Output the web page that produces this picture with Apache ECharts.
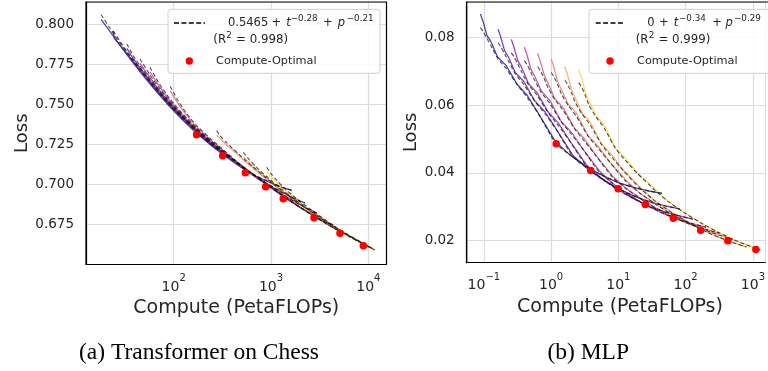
<!DOCTYPE html>
<html><head><meta charset="utf-8">
<script src="https://cdn.jsdelivr.net/npm/echarts@6/dist/echarts.min.js"></script>
<style>html,body{margin:0;padding:0;background:#fff;}#c{width:768px;height:371px;}</style>
</head><body><div id="c"></div>
<script>
// ---------------- (a) Transformer on Chess ----------------
const chessCompute = [
  [18, 24, 33, 45, 57, 70, 85, 100, 126, 172, 250, 319, 400, 545, 700, 883, 1100, 1336, 1633],
  [24, 24.6, 33, 45, 57, 70, 85, 100, 126, 172, 250, 319, 400, 545, 700, 883, 1100, 1336, 1633, 2000, 2234],
  [33, 38.5, 45, 57, 70, 85, 100, 126, 172, 250, 319, 400, 545, 700, 883, 1100, 1336, 1633, 2000, 2400, 2951],
  [45, 57, 70, 85, 100, 126, 172, 250, 319, 400, 545, 700, 883, 1100, 1336, 1633, 2000, 2767, 3500, 4365],
  [57, 70, 85, 100, 126, 172, 250, 319, 400, 545, 700, 883, 1100, 1336, 1633, 2000, 2767, 3500, 4365, 5400],
  [92, 110, 126, 150, 172, 250, 319, 400, 545, 700, 883, 1100, 1336, 1633, 2000, 2767, 3500, 4365, 5117, 6500, 8700],
  [277, 300, 350, 400, 470, 545, 700, 883, 1100, 1336, 1633, 2000, 2767, 3500, 4365, 5117, 6500, 8894, 11000],
  [519, 600, 700, 883, 1100, 1336, 1633, 2000, 2767, 3500, 4365, 5117, 6500, 8894, 11500],
  [904, 1000, 1150, 1336, 1633, 2000, 2767, 3500, 4365, 5117, 6500, 8894, 11730]
];
const chessLoss = [
  [.8030, .7926, .7811, .7705, .7629, .7564, .7506, .7460, .7398, .7319, .7237, .7188, .7145, .7088, .7051, .7024, .6999, .6979, .6964],
  [.7960, .7911, .7819, .7715, .7639, .7574, .7516, .7470, .7408, .7329, .7245, .7196, .7153, .7091, .7046, .7008, .6974, .6946, .6920, .6896, .6885],
  [.7850, .7786, .7729, .7649, .7582, .7523, .7476, .7413, .7333, .7250, .7200, .7157, .7095, .7048, .7006, .6967, .6934, .6903, .6873, .6848, .6823],
  [.7756, .7667, .7594, .7531, .7482, .7418, .7337, .7253, .7203, .7153, .7091, .7043, .7001, .6960, .6925, .6891, .6857, .6806, .6772, .6746],
  [.7704, .7619, .7548, .7495, .7428, .7345, .7259, .7208, .7157, .7094, .7046, .7003, .6962, .6926, .6891, .6856, .6803, .6766, .6732, .6705],
  [.7585, .7510, .7458, .7400, .7359, .7267, .7213, .7161, .7096, .7047, .7003, .6962, .6926, .6891, .6856, .6803, .6766, .6731, .6708, .6673, .6634],
  [.7308, .7286, .7248, .7217, .7179, .7143, .7087, .7037, .6990, .6950, .6911, .6873, .6815, .6775, .6737, .6711, .6675, .6629, .6600],
  [.7173, .7136, .7098, .7044, .6995, .6953, .6913, .6874, .6816, .6775, .6737, .6711, .6675, .6629, .6592],
  [.7079, .7049, .7012, .6973, .6927, .6884, .6821, .6778, .6739, .6712, .6675, .6629, .6589]
];
const chessFit = [
  [.8060, .7944, .7824, .7715, .7638, .7572, .7514, .7467, .7405, .7325, .7243, .7193, .7150, .7093, .7055, .7026, .7000, .6979, .6962],
  [.7958, .7947, .7832, .7726, .7648, .7582, .7524, .7477, .7415, .7335, .7251, .7201, .7158, .7096, .7050, .7011, .6976, .6947, .6920, .6895, .6883],
  [.7878, .7804, .7742, .7659, .7591, .7531, .7483, .7420, .7339, .7256, .7205, .7162, .7100, .7052, .7009, .6969, .6935, .6903, .6872, .6846, .6820],
  [.7784, .7685, .7607, .7541, .7491, .7426, .7344, .7259, .7208, .7158, .7096, .7047, .7004, .6962, .6926, .6891, .6856, .6804, .6769, .6743],
  [.7732, .7637, .7561, .7505, .7437, .7353, .7266, .7214, .7162, .7099, .7050, .7006, .6964, .6927, .6891, .6855, .6801, .6764, .6729, .6702],
  [.7613, .7528, .7471, .7410, .7368, .7275, .7220, .7167, .7101, .7051, .7006, .6964, .6927, .6891, .6855, .6801, .6764, .6728, .6705, .6670, .6631],
  [.7336, .7304, .7261, .7227, .7188, .7151, .7094, .7043, .6995, .6954, .6914, .6875, .6816, .6775, .6736, .6709, .6673, .6627, .6598],
  [.7201, .7154, .7111, .7054, .7004, .6961, .6920, .6880, .6821, .6779, .6740, .6713, .6676, .6629, .6591],
  [.7107, .7067, .7025, .6983, .6936, .6892, .6828, .6784, .6744, .6716, .6678, .6631, .6590]
];
const chessOptCompute = [172, 319, 545, 883, 1336, 2767, 5117, 8894];
const chessOptLoss = [0.7310, 0.7179, 0.7073, 0.6985, 0.6910, 0.6791, 0.6694, 0.6616];
const chessYTickLabels = ['0.675', '0.700', '0.725', '0.750', '0.775', '0.800'];
const chessXTickExps = [2, 3, 4];

// ---------------- (b) MLP ----------------
const mlpCompute = [
  [0.089, 0.098, 0.111, 0.127, 0.160, 0.214, 0.312, 0.445, 0.659, 1.16, 1.87, 3.29, 5.79, 10.2, 17.8, 28.5, 44.5],
  [0.163, 0.179, 0.204, 0.233, 0.293, 0.391, 0.571, 0.815, 1.21, 2.12, 3.42, 6.03, 10.6, 18.7, 32.6, 52.2, 81.5],
  [0.256, 0.282, 0.320, 0.366, 0.461, 0.614, 0.896, 1.28, 1.89, 3.33, 5.38, 9.47, 16.6, 29.4, 51.2, 81.9, 128],
  [0.40, 0.44, 0.50, 0.572, 0.72, 0.96, 1.40, 2.00, 2.96, 5.20, 8.40, 14.8, 26.0, 46.0, 80.0, 128, 200],
  [0.63, 0.693, 0.788, 0.901, 1.13, 1.51, 2.21, 3.15, 4.66, 8.19, 13.2, 23.3, 41.0, 72.5, 126, 202, 315],
  [1.0, 1.1, 1.25, 1.43, 1.8, 2.4, 3.5, 5.0, 7.4, 13, 21, 37, 65, 115, 200, 320, 500],
  [1.6, 1.76, 2.0, 2.29, 2.88, 3.84, 5.6, 8.0, 11.8, 20.8, 33.6, 59.2, 104, 184, 320, 512, 800],
  [2.57, 2.83, 3.21, 3.68, 4.63, 6.17, 9.0, 12.85, 19.0, 33.4, 54, 95, 167, 296, 514, 822, 1285]
];
const mlpLoss = [
  [.0870, .0846, .0807, .0789, .0743, .0718, .0662, .0628, .0573, .0492, .0454, .0420, .0392, .0370, .0355, .0346, .0339],
  [.0825, .0801, .0761, .0742, .0697, .0671, .0613, .0580, .0527, .0451, .0413, .0379, .0350, .0328, .0311, .0301, .0293],
  [.0795, .0770, .0732, .0711, .0664, .0638, .0581, .0547, .0495, .0424, .0387, .0352, .0324, .0300, .0283, .0272, .0263],
  [.0772, .0748, .0707, .0685, .0641, .0614, .0553, .0520, .0471, .0406, .0367, .0333, .0304, .0280, .0261, .0249, .0239],
  [.0754, .0729, .0689, .0665, .0620, .0593, .0533, .0500, .0451, .0390, .0353, .0319, .0289, .0264, .0245, .0232, .0221],
  [.0737, .0713, .0670, .0645, .0603, .0575, .0511, .0479, .0433, .0378, .0339, .0306, .0275, .0250, .0229, .0215, .0203],
  [.0714, .0689, .0648, .0621, .0577, .0549, .0486, .0453, .0408, .0358, .0320, .0286, .0256, .0229, .0208, .0193, .0180],
  [.0707, .0683, .0639, .0611, .0570, .0541, .0474, .0442, .0400, .0356, .0316, .0283, .0252, .0225, .0202, .0186, .0172]
];
const mlpFit = [
  [.0830, .0818, .0798, .0777, .0739, .0709, .0661, .0622, .0572, .0488, .0454, .0419, .0392, .0370, .0355, .0346, .0339],
  [.0785, .0773, .0752, .0730, .0693, .0662, .0612, .0574, .0526, .0447, .0413, .0378, .0350, .0328, .0311, .0301, .0293],
  [.0755, .0743, .0722, .0698, .0661, .0630, .0579, .0540, .0494, .0421, .0386, .0351, .0324, .0300, .0283, .0272, .0263],
  [.0732, .0720, .0698, .0673, .0637, .0605, .0552, .0514, .0470, .0402, .0367, .0332, .0304, .0280, .0261, .0249, .0239],
  [.0714, .0702, .0679, .0652, .0617, .0585, .0531, .0493, .0450, .0387, .0352, .0318, .0289, .0264, .0245, .0232, .0221],
  [.0697, .0685, .0661, .0633, .0599, .0566, .0510, .0473, .0432, .0374, .0339, .0305, .0275, .0250, .0229, .0215, .0203],
  [.0674, .0662, .0638, .0608, .0574, .0541, .0484, .0446, .0407, .0355, .0319, .0285, .0256, .0229, .0208, .0193, .0180],
  [.0667, .0655, .0630, .0599, .0566, .0532, .0473, .0436, .0399, .0352, .0316, .0282, .0252, .0225, .0202, .0186, .0172]
];
const mlpOptCompute = [1.19, 3.88, 9.93, 25.1, 65.7, 167, 424, 1107];
const mlpOptLoss = [0.0486, 0.0407, 0.0353, 0.0306, 0.0265, 0.0230, 0.0199, 0.0173];
const mlpYTickLabels = ['0.02', '0.04', '0.06', '0.08'];
const mlpXTickExps = [-1, 0, 1, 2, 3];

// ---------------- styling ----------------
const chessColors = ['#0d0887','#46049e','#7303a7','#9c189c','#be3884','#d9596a','#ee7c51','#fba239','#fcce25'];
const mlpColors = ['#0d0887','#4c02a1','#7e03a8','#ac2694','#ce4a76','#e87258','#f99c3c','#fcce25'];
const FONT = 'DejaVu Sans';
const TXT = '#262626';

function pairs(xs, ys) { return xs.map((x, i) => [x, ys[i]]); }
function powFormatter(exps) {
  return function (v) {
    const e = Math.log10(v);
    const r = Math.round(e);
    if (Math.abs(e - r) > 1e-6 || exps.indexOf(r) < 0) return '';
    return '{b|10}{s|' + (r < 0 ? '\u2212' + (-r) : r) + '}';
  };
}
const powRich = {
  b: { fontSize: 14, fontFamily: FONT, color: TXT, lineHeight: 20, verticalAlign: 'bottom' },
  s: { fontSize: 10, fontFamily: FONT, color: TXT, lineHeight: 12, verticalAlign: 'top' }
};
function xAxisCfg(grid, min, max, exps, gap, margin, namePad) {
  return {
    type: 'log', logBase: 10, gridIndex: grid, min: min, max: max, position: 'bottom',
    axisLine: { show: true, onZero: false, lineStyle: { color: '#000', width: 1.2 } },
    axisTick: { show: false },
    splitLine: { show: true, lineStyle: { color: '#dcdcdc', width: 1.2 } },
    axisLabel: { formatter: powFormatter(exps), rich: powRich, margin: margin, showMinLabel: false, showMaxLabel: false },
    name: 'Compute (PetaFLOPs)', nameLocation: 'middle', nameGap: gap,
    nameTextStyle: { fontSize: 19, fontFamily: FONT, color: TXT, padding: namePad }
  };
}
function yAxisCfg(grid, min, max, labels, digits, gap, extra) {
  return Object.assign({
    type: 'value', gridIndex: grid, min: min, max: max, position: 'left',
    axisLine: { show: true, onZero: false, lineStyle: { color: '#000', width: 1.2 } },
    axisTick: { show: false },
    splitLine: { show: true, lineStyle: { color: '#dcdcdc', width: 1.2 } },
    axisLabel: {
      margin: 12, fontSize: 13.5, fontFamily: FONT, color: TXT,
      formatter: function (v) { const s = v.toFixed(digits); return labels.indexOf(s) >= 0 ? s : ''; }
    },
    name: 'Loss', nameLocation: 'middle', nameGap: gap,
    nameTextStyle: { fontSize: 18, fontFamily: FONT, color: TXT }
  }, extra || {});
}

const series = [];
function addPanel(idx, comp, loss, fit, colors, optC, optL) {
  comp.forEach((xs, i) => series.push({
    type: 'line', xAxisIndex: idx, yAxisIndex: idx, data: pairs(xs, loss[i]), symbol: 'none',
    lineStyle: { color: colors[i], width: 1.3, opacity: 0.75 }, z: 2, silent: true, animation: false
  }));
  comp.forEach((xs, i) => series.push({
    type: 'line', xAxisIndex: idx, yAxisIndex: idx, data: pairs(xs, fit[i]), symbol: 'none', smooth: 0.2,
    lineStyle: { color: '#111', width: 1.1, type: [4, 2.5], opacity: 0.75 }, z: 3, silent: true, animation: false
  }));
  series.push({
    type: 'scatter', xAxisIndex: idx, yAxisIndex: idx, data: pairs(optC, optL), symbol: 'circle',
    symbolSize: 7.5, itemStyle: { color: '#ff0000', opacity: 1 }, z: 5, silent: true, animation: false
  });
}
addPanel(0, chessCompute, chessLoss, chessFit, chessColors, chessOptCompute, chessOptLoss);
addPanel(1, mlpCompute, mlpLoss, mlpFit, mlpColors, mlpOptCompute, mlpOptLoss);

// legend, frame and caption graphics
function T(x, y, text, size, opts) {
  opts = opts || {};
  return { type: 'text', x: x, y: y, z: 100, silent: true, style: {
    text: text, fontSize: size, fontFamily: opts.family || FONT, fontStyle: opts.italic ? 'italic' : 'normal',
    fill: opts.color || TXT, align: opts.align || 'left', textAlign: opts.align || 'left',
    verticalAlign: 'middle', textVerticalAlign: 'middle' } };
}
function legend(bx, bw, dx1, dx2, dotx, pieces, r2x, r2val, coX) {
  const els = [
    { type: 'rect', z: 99, silent: true, shape: { x: bx, y: 9.3, width: bw, height: 64, r: 3 },
      style: { fill: 'rgba(255,255,255,0.85)', stroke: '#cfcfcf', lineWidth: 1 } },
    { type: 'line', z: 100, silent: true, shape: { x1: dx1, y1: 23, x2: dx2, y2: 23 },
      style: { stroke: '#000', lineWidth: 1.6, lineDash: [5, 2.4] } },
    { type: 'circle', z: 100, silent: true, shape: { cx: dotx, cy: 61, r: 3.7 }, style: { fill: '#ff0000' } },
    T(coX, 61, 'Compute-Optimal', 11.3)
  ];
  pieces.forEach(p => els.push(T(p[0], p[2] ? 18.6 : 23.3, p[1], p[2] ? 8.8 : 11.5, { italic: p[3] })));
  els.push(T(r2x, 40, '(R', 11.8));
  els.push(T(r2x + 13, 36.2, '2', 8.8));
  els.push(T(r2x + 19, 40, ' = ' + r2val + ')', 11.8));
  return els;
}
const frames = [
  { type: 'polyline', z: 95, silent: true, shape: { points: [[86, 264.4], [86, 2], [386.5, 2], [386.5, 264.4]] },
    style: { fill: 'none', stroke: '#000', lineWidth: 1.2 } },
  { type: 'polyline', z: 95, silent: true, shape: { points: [[466.7, 262.7], [466.7, 2], [770, 2]] },
    style: { fill: 'none', stroke: '#000', lineWidth: 1.2 } }
];
const graphics = frames
  .concat(legend(168, 212, 174, 205, 189.3, [
    [228, '0.5465'], [271.5, '+'], [286.2, 't', false, true], [290.7, '\u22120.28', true],
    [323, '+'], [337.8, 'p', false, true], [346.7, '\u22120.21', true]
  ], 213.3, '0.998', 216))
  .concat(legend(589, 200, 595.7, 624.7, 610, [
    [647.3, '0'], [659, '+'], [673.8, 't', false, true], [679, '\u22120.34', true],
    [712.3, '+'], [725.5, 'p', false, true], [734, '\u22120.29', true]
  ], 635.7, '0.999', 637))
  .concat([
    T(199, 352.7, '(a) Transformer on Chess', 23.5, { family: 'Liberation Serif', color: '#000', align: 'center' }),
    T(588.2, 352.7, '(b) MLP', 23.5, { family: 'Liberation Serif', color: '#000', align: 'center' })
  ]);

const chessXMin = 12.56, chessXMax = 15380, mlpXMin = 0.05561, mlpXMax = 1522;
const chart = echarts.init(document.getElementById('c'), null, { renderer: 'canvas' });
chart.setOption({
  animation: false,
  backgroundColor: '#fff',
  grid: [
    { left: 86, top: 2, width: 300.5, height: 262.4, show: false },
    { left: 466.7, top: 2, width: 301.3, height: 260.7, show: false }
  ],
  xAxis: [
    xAxisCfg(0, chessXMin, chessXMax, chessXTickExps, 30, 9.5, [0, 0, 0, 0]),
    xAxisCfg(1, mlpXMin, mlpXMax, mlpXTickExps, 32, 10, [0, 0, 0, 8])
  ],
  yAxis: [
    yAxisCfg(0, 0.65, 0.814, chessYTickLabels, 3, 50, { interval: 0.025 }),
    yAxisCfg(1, 0.01337, 0.09057, mlpYTickLabels, 2, 46, { splitNumber: 4 })
  ],
  series: series,
  graphic: graphics
});
</script>
</body></html>
